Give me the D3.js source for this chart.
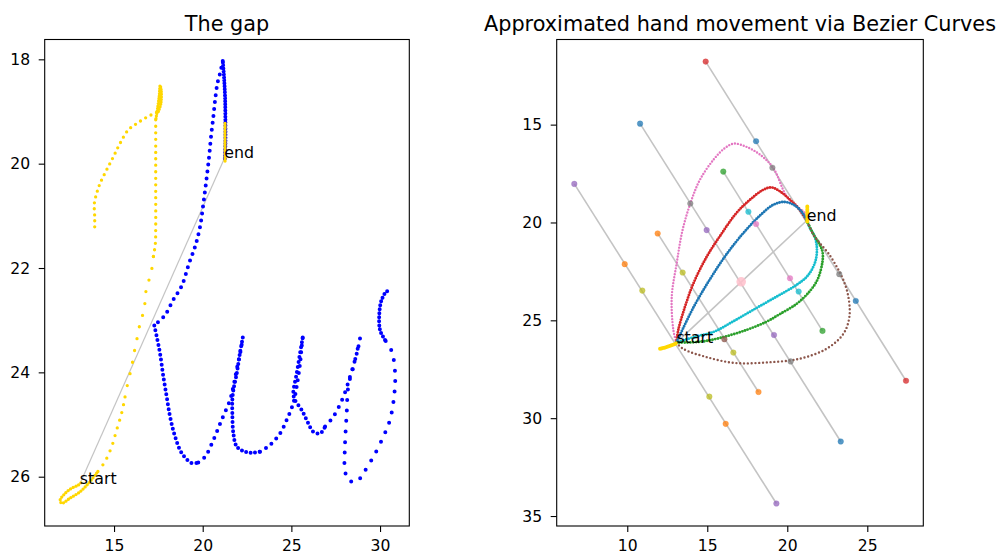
<!DOCTYPE html>
<html>
<head>
<meta charset="utf-8">
<script src="https://cdn.jsdelivr.net/npm/d3@7/dist/d3.min.js"></script>
<style>
  html, body { margin: 0; padding: 0; background: #fff; }
  svg { display: block; font-family: "DejaVu Sans", sans-serif; }
</style>
</head>
<body>
<svg id="chart" width="1004" height="556"></svg>
<script>
// ---------- data ----------
// Pen trace of the handwriting (blue), split where the sampling density changes
const inkSegments = [
  [[21.25,19.90],[21.28,19.61],[21.28,19.23],[21.26,18.72],[21.20,18.33],[21.13,18.03]],
  [[21.13,18.03],[20.98,18.27],[20.83,18.46],[20.70,18.78],[20.60,19.10],[20.47,19.48],[20.36,19.87],
   [20.23,20.25],[20.04,20.76],[19.85,21.21],[19.57,21.59],[19.23,21.91],[18.82,22.34],[18.34,22.61],
   [17.88,22.90],[17.41,23.06],[17.27,23.10]],
  [[17.27,23.10],[17.41,23.32],[17.59,23.63],[17.78,24.08],[17.97,24.47],[18.16,24.85],[18.44,25.23],
   [18.82,25.55],[19.38,25.74],[19.75,25.73]],
  [[19.75,25.73],[20.13,25.62],[20.60,25.30],[21.07,24.91],[21.54,24.53],[21.73,24.27],[21.95,23.89],
   [22.15,23.57],[22.26,23.33]],
  [[22.26,23.33],[22.10,23.63],[21.92,24.02],[21.73,24.34],[21.67,24.53],[21.67,24.78],[21.73,25.17],
   [21.92,25.42],[22.39,25.52],[22.86,25.54],[23.23,25.52]],
  [[23.23,25.52],[23.80,25.39],[24.36,25.17],[24.74,24.91],[25.11,24.59],[25.30,24.27],[25.49,23.83],
   [25.58,23.51],[25.64,23.33]],
  [[25.64,23.33],[25.49,23.63],[25.30,24.02],[25.11,24.40],[25.20,24.53],[25.58,24.72],[25.86,24.91],
   [26.24,25.14],[26.62,25.17],[26.90,25.04]],
  [[26.90,25.04],[27.37,24.85],[27.93,24.47],[28.31,24.08],[28.59,23.76],[28.78,23.51],[28.87,23.35]],
  [[28.87,23.35],[28.50,23.89],[28.21,24.27],[28.12,24.78],[28.02,25.42],[28.02,25.87],[28.21,26.06],
   [28.68,26.10],[29.06,25.93],[29.62,25.62],[30.19,25.23],[30.56,24.91],[30.79,24.47],[30.85,24.02],
   [30.66,23.60],[30.28,23.38]],
  [[30.28,23.38],[30.00,23.19],[29.96,22.87],[30.09,22.61],[30.38,22.45],[30.56,22.45]]
];
// Dot spacing (px) along each ink segment
const inkSpacing = [3, 7, 5, 7.5, 4.5, 7, 5, 8, 10.5, 4];

// Pen-up movement (yellow) in the left panel
const gapSegments = [
  [[13.91,21.21],[13.91,21.02],[13.89,20.76],[14.02,20.57],[14.21,20.38],[14.58,20.12],[14.96,19.87],
   [15.34,19.61],[15.81,19.35],[16.28,19.23],[16.84,19.11],[17.50,19.00]],
  [[17.50,19.00],[17.64,18.85],[17.66,18.60],[17.60,18.50],[17.55,18.70],[17.42,19.02],[17.35,19.16]],
  [[17.35,19.16],[17.35,19.80],[17.35,20.50],[17.35,21.20],[17.33,21.53],[17.22,21.78]],
  [[17.22,21.78],[17.07,22.13],[16.84,22.36],[16.69,22.80],[16.47,23.06],[16.28,23.38],[16.09,23.70],
   [16.00,23.89],[15.81,24.15],[15.62,24.47]],
  [[15.62,24.47],[15.43,24.78],[15.15,25.10],[14.87,25.42],[14.49,25.71],[14.02,25.93]],
  [[14.02,25.93],[13.55,26.13],[13.08,26.29],[12.52,26.41],[12.05,26.51],[11.96,26.45],[12.24,26.32],
   [12.61,26.22],[12.99,26.16],[13.18,26.10]],
  [[21.26,19.23],[21.26,19.60],[21.26,19.96]]
];
const gapSpacing = [6, 2.5, 6.5, 12, 8, 3, 2.5];

// Endpoints of the gap
const gapStart = [13.07, 26.14];
const gapEnd = [21.22, 19.90];

// Pen samples next to the gap that are kept in the right panel
const nearStart = [[12.05,26.45],[12.40,26.38],[12.75,26.28],[13.09,26.17]];
const nearEnd = [[21.25,19.18],[21.25,19.55],[21.25,19.95]];

// Candidate Bezier curves from start to end (series index into the tab10 palette)
const curvePink = [[13.07,26.14],[12.88,25.49],[12.78,23.79],[13.09,22.08],[13.46,20.37],[14.02,18.84],
  [14.54,17.82],[15.38,16.80],[16.11,16.19],[16.67,15.97],[17.46,16.14],[18.29,16.53],[19.12,17.21],
  [19.96,18.67],[20.58,19.18],[21.10,19.52],[21.22,19.90]];
const curveRed = [[13.07,26.14],[13.19,25.49],[13.61,24.30],[14.13,23.12],[14.96,21.76],[15.79,20.70],
  [16.83,19.51],[17.67,18.84],[18.50,18.33],[19.02,18.21],[19.54,18.41],[20.17,18.84],[20.69,19.26],
  [21.22,19.90]];
const curveBlue = [[13.07,26.14],[14.13,24.35],[15.17,22.90],[16.21,21.62],[17.30,20.50],[18.29,19.65],
  [19.12,19.10],[19.80,18.95],[20.40,19.10],[20.90,19.45],[21.22,19.90]];
const curveCyan = [[13.07,26.14],[14.20,25.85],[15.38,25.60],[16.63,25.05],[17.80,24.50],[19.33,23.79],
  [20.58,23.19],[21.30,22.70],[21.75,22.00],[21.85,21.30],[21.70,20.70],[21.42,20.30],[21.22,19.90]];
const curveGreen = [[13.07,26.14],[14.50,26.10],[15.80,25.90],[17.46,25.49],[18.71,25.07],[19.50,24.70],
  [20.60,24.15],[21.42,23.50],[21.90,22.90],[22.20,22.00],[22.20,21.50],[22.00,21.10],[21.63,20.60],
  [21.22,19.90]];
const curveBrown = [[13.07,26.14],[13.50,26.46],[14.96,26.88],[16.73,27.18],[18.71,27.15],[20.79,26.96],
  [22.46,26.45],[23.50,25.70],[23.88,24.83],[23.82,23.81],[23.50,22.93],[23.08,22.25],[22.56,21.57],
  [22.04,21.06],[21.63,20.63],[21.22,19.90]];
const curves = [
  { series: 6, pts: curvePink },
  { series: 3, pts: curveRed },
  { series: 0, pts: curveBlue },
  { series: 9, pts: curveCyan },
  { series: 2, pts: curveGreen },
  { series: 5, pts: curveBrown }
];
const curveSpacing = [3, 2.6, 2.6, 2.6, 2.8, 3.8];
const curveDot = [2.4, 2.9, 2.9, 2.9, 2.9, 2.4];

// Control points (series index, x, y)
const controlPoints = [
  [0,10.80,14.95],[0,23.34,31.19],[0,18.05,15.85],[0,24.28,24.01],
  [1,11.90,20.56],[1,18.20,28.66],[1,9.84,22.13],[1,16.15,30.29],
  [2,16.00,17.40],[2,22.20,25.54],
  [3,14.90,11.78],[3,27.42,28.09],
  [4,6.69,18.03],[4,19.32,34.36],[4,14.96,20.39],[4,19.17,25.75],
  [5,16.07,25.97],
  [6,18.05,20.08],[6,20.17,22.85],
  [7,19.07,17.20],[7,23.25,22.64],[7,13.94,19.03],[7,20.21,27.10],
  [8,13.46,22.56],[8,16.63,26.65],[8,10.94,23.48],[8,15.13,28.90],
  [9,17.57,19.45],[9,20.71,23.53]
];
const midPoint = [17.12, 23.03];

// Guide lines perpendicular to the start-end chord
const guideLines = [
  [[14.90,11.78],[27.42,28.09]],
  [[6.69,18.03],[19.32,34.36]],
  [[10.80,14.95],[23.34,31.19]],
  [[11.90,20.56],[18.20,28.66]],
  [[16.00,17.40],[22.20,25.54]]
];

// Axis limits and ticks
const leftXDomain = [11.09, 31.65], leftYDomain = [17.62, 26.945];
const rightXDomain = [5.59, 28.50], rightYDomain = [10.65, 35.51];
const leftXTicks = [15, 20, 25, 30], leftYTicks = [18, 20, 22, 24, 26];
const rightXTicks = [10, 15, 20, 25], rightYTicks = [15, 20, 25, 30, 35];

const titles = ["The gap", "Approximated hand movement via Bezier Curves"];

// ---------- drawing ----------
const palette = d3.schemeCategory10;
const svg = d3.select("#chart");
svg.append("rect").attr("width", 1004).attr("height", 556).attr("fill", "#fff");

function makePanel(box, xDom, yDom, xTicks, yTicks, title) {
  const x = d3.scaleLinear().domain(xDom).range([box.x0, box.x1]);
  const y = d3.scaleLinear().domain(yDom).range([box.y0, box.y1]);
  const g = svg.append("g");
  const marks = g.append("g");
  const axX = g.append("g").attr("transform", `translate(0,${box.y1})`)
    .call(d3.axisBottom(x).tickValues(xTicks).tickSize(6).tickPadding(8).tickFormat(d3.format("d")));
  const axY = g.append("g").attr("transform", `translate(${box.x0},0)`)
    .call(d3.axisLeft(y).tickValues(yTicks).tickSize(6).tickPadding(8.5).tickFormat(d3.format("d")));
  [axX, axY].forEach(a => {
    a.select(".domain").remove();
    a.selectAll("line").attr("stroke", "#000").attr("stroke-width", 1.1);
    a.selectAll("text").attr("fill", "#000").style("font-size", "15.6px")
      .style("font-family", "DejaVu Sans, sans-serif");
  });
  g.append("rect").attr("x", box.x0).attr("y", box.y0)
    .attr("width", box.x1 - box.x0).attr("height", box.y1 - box.y0)
    .attr("fill", "none").attr("stroke", "#000").attr("stroke-width", 1.1);
  g.append("text").attr("x", (box.x0 + box.x1) / 2).attr("y", box.y0 - 9)
    .attr("text-anchor", "middle").attr("fill", "#000")
    .style("font-size", "20.8px").text(title);
  return { x, y, marks };
}

function dotted(layer, pts, p, color, diam, gap) {
  const line = d3.line().x(d => p.x(d[0])).y(d => p.y(d[1])).curve(d3.curveCatmullRom.alpha(0.5));
  layer.append("path").datum(pts).attr("d", line)
    .attr("fill", "none").attr("stroke", color).attr("stroke-width", diam)
    .attr("stroke-linecap", "round").attr("stroke-dasharray", `0 ${gap}`);
}

function segment(layer, a, b, p, color, width) {
  layer.append("line")
    .attr("x1", p.x(a[0])).attr("y1", p.y(a[1]))
    .attr("x2", p.x(b[0])).attr("y2", p.y(b[1]))
    .attr("stroke", color).attr("stroke-width", width);
}

function label(layer, pt, p, txt) {
  layer.append("text").attr("x", p.x(pt[0])).attr("y", p.y(pt[1]))
    .attr("fill", "#000").style("font-size", "15.8px").text(txt);
}

// Left panel: handwriting with the pen-up gap
const L = makePanel({ x0: 44.7, x1: 409.3, y0: 39.5, y1: 526 },
  leftXDomain, leftYDomain, leftXTicks, leftYTicks, titles[0]);
segment(L.marks, gapStart, gapEnd, L, "#c4c4c4", 1.2);
inkSegments.forEach((s, i) => dotted(L.marks, s, L, "#0000ff", 4, inkSpacing[i]));
gapSegments.forEach((s, i) => dotted(L.marks, s, L, "#ffd700", 3.3, gapSpacing[i]));
label(L.marks, gapStart, L, "start");
label(L.marks, gapEnd, L, "end");

// Right panel: Bezier approximations of the gap
const R = makePanel({ x0: 556.7, x1: 923.3, y0: 39.5, y1: 526 },
  rightXDomain, rightYDomain, rightXTicks, rightYTicks, titles[1]);
guideLines.forEach(l => segment(R.marks, l[0], l[1], R, "#c4c4c4", 1.6));
segment(R.marks, gapStart, gapEnd, R, "#c4c4c4", 1.6);
curves.forEach((c, i) => dotted(R.marks, c.pts, R, palette[c.series], curveDot[i], curveSpacing[i]));
R.marks.selectAll("circle.cp").data(controlPoints).join("circle")
  .attr("class", "cp")
  .attr("cx", d => R.x(d[1])).attr("cy", d => R.y(d[2])).attr("r", 2.8)
  .attr("fill", d => palette[d[0]]).attr("fill-opacity", 0.75)
  .attr("stroke", d => palette[d[0]]).attr("stroke-opacity", 0.3).attr("stroke-width", 1);
R.marks.append("circle").attr("cx", R.x(midPoint[0])).attr("cy", R.y(midPoint[1]))
  .attr("r", 4.8).attr("fill", "#ffc0cb").attr("fill-opacity", 0.85);
dotted(R.marks, nearStart, R, "#ffd700", 4, 1.5);
dotted(R.marks, nearEnd, R, "#ffd700", 4, 1.5);
label(R.marks, gapStart, R, "start");
label(R.marks, gapEnd, R, "end");
</script>
</body>
</html>
